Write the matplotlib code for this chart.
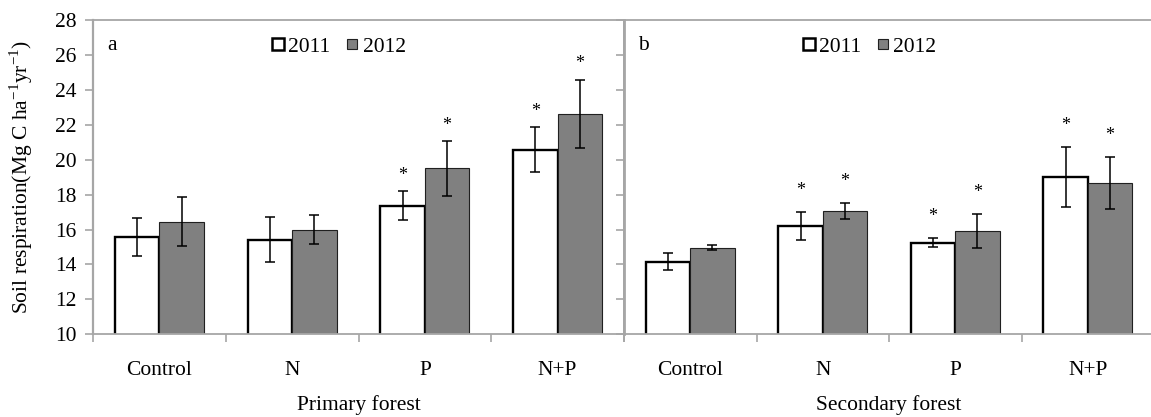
import matplotlib
matplotlib.use("Agg")
import matplotlib.pyplot as plt
from matplotlib.lines import Line2D
import numpy as np

plt.rcParams['font.family'] = ['Liberation Serif', 'DejaVu Serif']
plt.rcParams['mathtext.fontset'] = 'custom'
plt.rcParams['mathtext.rm'] = 'Liberation Serif'

treatments = ["Control", "N", "P", "N+P"]
forests = ["Primary forest", "Secondary forest"]
panel_letters = ["a", "b"]
years = ["2011", "2012"]

# mean soil respiration (Mg C ha-1 yr-1) and standard errors
primary_2011 = [15.58, 15.42, 17.37, 20.57]
primary_2011_se = [1.08, 1.30, 0.82, 1.30]
primary_2012 = [16.46, 15.99, 19.50, 22.62]
primary_2012_se = [1.40, 0.82, 1.57, 1.97]
secondary_2011 = [14.16, 16.20, 15.25, 19.01]
secondary_2011_se = [0.48, 0.78, 0.27, 1.73]
secondary_2012 = [14.96, 17.08, 15.92, 18.65]
secondary_2012_se = [0.13, 0.45, 0.97, 1.50]
# significance flags (1 = marked with an asterisk)
primary_2011_sig = [0, 0, 1, 1]
primary_2012_sig = [0, 0, 1, 1]
secondary_2011_sig = [0, 1, 1, 1]
secondary_2012_sig = [0, 1, 1, 1]

panels = [
    (primary_2011, primary_2011_se, primary_2011_sig,
     primary_2012, primary_2012_se, primary_2012_sig),
    (secondary_2011, secondary_2011_se, secondary_2011_sig,
     secondary_2012, secondary_2012_se, secondary_2012_sig),
]

W, H = 1151, 417
fig = plt.figure(figsize=(W / 100, H / 100), dpi=100)
ax_bottom = (H - 334.3) / H
ax_height = (334.3 - 20) / H
ax_left = fig.add_axes([93 / W, ax_bottom, 531 / W, ax_height])
ax_right = fig.add_axes([624 / W, ax_bottom, 530 / W, ax_height])

spine_col = '#a6a6a6'
fill_2012 = '#808080'
bw = 0.335
fs = 15.5
star_offsets = [11.5, 15.5]  # points above the error-bar cap

for k, (ax, data) in enumerate(zip([ax_left, ax_right], panels)):
    v11, e11, s11, v12, e12, s12 = data
    x = np.arange(len(treatments))
    ax.bar(x - bw / 2, v11, width=bw, color='white',
           edgecolor='black', linewidth=1.7, zorder=2)
    ax.bar(x + bw / 2, v12, width=bw, color=fill_2012,
           edgecolor='#202020', linewidth=0.8, zorder=2)
    ax.errorbar(x - bw / 2, v11, yerr=e11, fmt='none', ecolor='black',
                elinewidth=1.1, capsize=3.3, capthick=1.1, zorder=3)
    ax.errorbar(x + bw / 2, v12, yerr=e12, fmt='none', ecolor='black',
                elinewidth=1.1, capsize=3.3, capthick=1.1, zorder=3)
    for xs, vals, errs, sig in [(x - bw / 2, v11, e11, s11),
                                (x + bw / 2, v12, e12, s12)]:
        for xi, v, e, s in zip(xs, vals, errs, sig):
            if s:
                ax.annotate('*', (xi, v + e), xytext=(0, star_offsets[k]),
                            textcoords='offset points', ha='center',
                            va='center', fontsize=13)

    ax.set_ylim(10, 28)
    ax.set_xlim(-0.5, len(treatments) - 0.5)
    ax.set_yticks(np.arange(10, 29, 2))
    ax.set_xticks(x)
    ax.set_xticklabels(treatments, fontsize=fs)
    ax.set_xticks(np.arange(-0.5, len(treatments), 1.0), minor=True)
    ax.tick_params(axis='x', which='major', length=0, pad=19)
    ax.tick_params(axis='x', which='minor', length=6, width=1.2,
                   color=spine_col, direction='out')
    ax.tick_params(axis='y', length=6, width=1.2, color=spine_col,
                   direction='out', labelsize=fs, pad=6)
    for sp in ax.spines.values():
        sp.set_color(spine_col)
        sp.set_linewidth(1.3)
    ax.spines['left'].set_linewidth(1.6)

    ax.text(0.026, 0.92, panel_letters[k], transform=ax.transAxes,
            fontsize=fs, ha='left', va='center')
    ax.text(0.5, -0.225, forests[k], transform=ax.transAxes,
            fontsize=fs, ha='center', va='center')

    handles = [
        Line2D([], [], linestyle='none', marker='s', markersize=8.5,
               markerfacecolor='white', markeredgecolor='black',
               markeredgewidth=1.8),
        Line2D([], [], linestyle='none', marker='s', markersize=7.5,
               markerfacecolor=fill_2012, markeredgecolor='#202020',
               markeredgewidth=0.8),
    ]
    ax.legend(handles, years, loc='center left',
              bbox_to_anchor=(0.337, 0.915), ncol=2, frameon=False,
              fontsize=fs, handlelength=0.55, handletextpad=0.2,
              columnspacing=0.75, borderaxespad=0, borderpad=0)

ax_right.tick_params(axis='y', labelleft=False)
ax_right.spines['left'].set_linewidth(2.0)

ax_left.set_ylabel('Soil respiration(Mg C ha$^{-1}$yr$^{-1}$)',
                   fontsize=fs, labelpad=14)

fig.savefig('out.png', dpi=100)
